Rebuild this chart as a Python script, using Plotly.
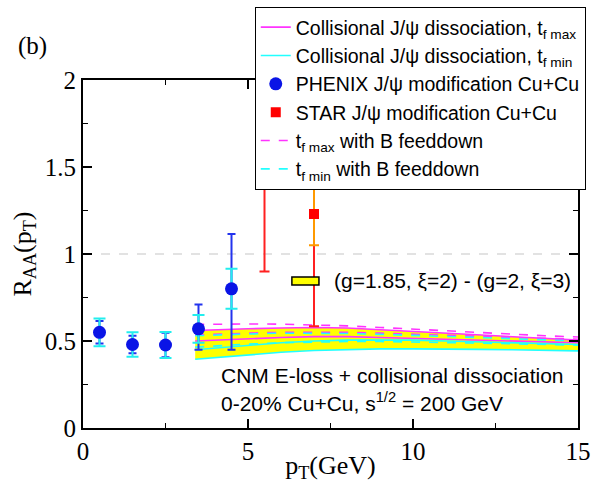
import plotly.graph_objects as go

# ---------------- data ----------------
pt_theory = [3.4, 4, 5, 6, 7, 8, 9, 10, 11, 12, 13, 14, 15]
mag_solid_hi = [0.560, 0.565, 0.570, 0.575, 0.578, 0.575, 0.565, 0.555, 0.545, 0.535, 0.525, 0.515, 0.505]
mag_solid_lo = [0.500, 0.505, 0.515, 0.520, 0.525, 0.525, 0.520, 0.515, 0.510, 0.505, 0.500, 0.495, 0.490]
cyan_solid_hi = [0.450, 0.460, 0.475, 0.490, 0.500, 0.505, 0.505, 0.505, 0.500, 0.495, 0.490, 0.485, 0.480]
cyan_solid_lo = [0.395, 0.405, 0.420, 0.435, 0.445, 0.450, 0.455, 0.455, 0.455, 0.452, 0.450, 0.447, 0.443]
mag_dash_hi = [0.595, 0.597, 0.598, 0.597, 0.593, 0.587, 0.578, 0.568, 0.558, 0.548, 0.538, 0.530, 0.523]
mag_dash_lo = [0.535, 0.540, 0.545, 0.550, 0.552, 0.550, 0.545, 0.540, 0.533, 0.527, 0.520, 0.515, 0.510]
cyan_dash_hi = [0.530, 0.535, 0.540, 0.545, 0.545, 0.543, 0.538, 0.533, 0.527, 0.520, 0.513, 0.507, 0.500]
cyan_dash_lo = [0.465, 0.472, 0.482, 0.490, 0.495, 0.497, 0.497, 0.495, 0.492, 0.488, 0.484, 0.480, 0.476]

phenix_pt = [0.5, 1.5, 2.5, 3.5, 4.5]
phenix_raa = [0.55, 0.48, 0.477, 0.57, 0.80]
phenix_stat_up = [0.065, 0.05, 0.07, 0.14, 0.315]
phenix_stat_dn = [0.065, 0.05, 0.07, 0.12, 0.35]
phenix_sys = [0.08, 0.07, 0.075, 0.08, 0.115]

star_pt = [5.5, 7.0]
star_raa = [1.65, 1.23]
star_stat = [0.75, 0.645]
star_sys = [0.25, 0.18]

x_ticks = [0, 5, 10, 15]
y_ticks = [0, 0.5, 1, 1.5, 2]

MAG = "#ff33ff"
CYA = "#22ffff"
SANS = "Liberation Sans, Arial, sans-serif"
SERIF = "Liberation Serif, Times New Roman, serif"

fig = go.Figure()

# yellow band
fig.add_trace(go.Scatter(x=pt_theory, y=cyan_solid_lo, mode="lines", line=dict(width=0),
                         showlegend=False, hoverinfo="skip"))
fig.add_trace(go.Scatter(x=pt_theory, y=mag_solid_hi, mode="lines", line=dict(width=0),
                         fill="tonexty", fillcolor="#ffff00", showlegend=False, hoverinfo="skip"))

# theory curves
def curve(y, color, dash, name=None, rank=None):
    fig.add_trace(go.Scatter(x=pt_theory, y=y, mode="lines",
                             line=dict(color=color, width=1.6, dash=dash),
                             name=name or "", showlegend=name is not None,
                             legendrank=rank if rank else 1000))

curve(mag_solid_hi, MAG, "solid", "Collisional J/ψ dissociation, t<sub>f max</sub>", 1)
curve(mag_solid_lo, MAG, "solid")
curve(cyan_solid_hi, CYA, "solid", "Collisional J/ψ dissociation, t<sub>f min</sub>", 2)
curve(cyan_solid_lo, CYA, "solid")
curve(mag_dash_hi, MAG, "dash", "t<sub>f max</sub> with B feeddown", 5)
curve(mag_dash_lo, MAG, "dash")
curve(cyan_dash_hi, CYA, "dash", "t<sub>f min</sub> with B feeddown", 6)
curve(cyan_dash_lo, CYA, "dash")

# PHENIX
fig.add_trace(go.Scatter(x=phenix_pt, y=phenix_raa, mode="markers", marker=dict(size=1, opacity=0),
                         error_y=dict(type="data", array=phenix_stat_up, arrayminus=phenix_stat_dn,
                                      color="#2233ee", thickness=2, width=4),
                         showlegend=False))
fig.add_trace(go.Scatter(x=phenix_pt, y=phenix_raa, mode="markers", marker=dict(size=1, opacity=0),
                         error_y=dict(type="data", array=phenix_sys, color="#22eeee", thickness=2, width=6),
                         showlegend=False))
fig.add_trace(go.Scatter(x=phenix_pt, y=phenix_raa, mode="markers",
                         marker=dict(symbol="circle", size=13, color="#0a14e6"),
                         name="PHENIX J/ψ modification Cu+Cu", legendrank=3))

# STAR
fig.add_trace(go.Scatter(x=star_pt, y=star_raa, mode="markers", marker=dict(size=1, opacity=0),
                         error_y=dict(type="data", array=star_stat, color="#ff2020", thickness=2, width=5),
                         showlegend=False))
fig.add_trace(go.Scatter(x=star_pt, y=star_raa, mode="markers", marker=dict(size=1, opacity=0),
                         error_y=dict(type="data", array=star_sys, color="#ff9900", thickness=2, width=5),
                         showlegend=False))
fig.add_trace(go.Scatter(x=star_pt, y=star_raa, mode="markers",
                         marker=dict(symbol="square", size=10, color="#ff0000"),
                         name="STAR J/ψ modification Cu+Cu", legendrank=4))

# reference line at 1
fig.add_hline(y=1, line=dict(color="#d9d9d9", width=1.5, dash="dash"), layer="below")

# band key
fig.add_shape(type="rect", x0=6.33, x1=7.15, y0=0.822, y1=0.868, xref="x", yref="y",
              fillcolor="#ffff00", line=dict(color="black", width=1.5), layer="above")

fig.add_annotation(x=7.55, y=0.845, xref="x", yref="y", xanchor="left", yanchor="middle",
                   text="(g=1.85, ξ=2) - (g=2, ξ=3)", showarrow=False,
                   font=dict(family=SANS, size=21, color="black"))
fig.add_annotation(x=4.12, y=0.30, xref="x", yref="y", xanchor="left", yanchor="middle",
                   text="CNM E-loss + collisional dissociation", showarrow=False,
                   font=dict(family=SANS, size=21, color="black"))
fig.add_annotation(x=4.12, y=0.15, xref="x", yref="y", xanchor="left", yanchor="middle",
                   text="0-20% Cu+Cu, s<sup>1/2</sup> = 200 GeV", showarrow=False,
                   font=dict(family=SANS, size=21, color="black"))
fig.add_annotation(x=-0.135, y=1.098, xref="paper", yref="paper", xanchor="left", yanchor="middle",
                   text="(b)", showarrow=False, font=dict(family=SERIF, size=25, color="black"))

axis_common = dict(showline=True, linecolor="black", linewidth=2, mirror="allticks",
                   ticks="inside", ticklen=9, tickwidth=1.5, tickcolor="black",
                   showgrid=False, zeroline=False, automargin=False,
                   tickfont=dict(family=SERIF, size=25, color="black"))

fig.update_xaxes(range=[0, 15], tickvals=x_ticks,
                 minor=dict(dtick=2.5, ticks="inside", ticklen=5, tickwidth=1.2, tickcolor="black"),
                 title=dict(text="p<sub>T</sub>(GeV)", font=dict(family=SERIF, size=26, color="black"), standoff=2),
                 **axis_common)
fig.update_yaxes(range=[0, 2], tickvals=y_ticks,
                 minor=dict(dtick=0.25, ticks="inside", ticklen=5, tickwidth=1.2, tickcolor="black"),
                 title=dict(text="R<sub>AA</sub>(p<sub>T</sub>)", font=dict(family=SERIF, size=26, color="black"), standoff=6),
                 **axis_common)

fig.update_layout(
    width=597, height=483,
    margin=dict(l=83, r=19, t=80, b=55, autoexpand=False),
    paper_bgcolor="white", plot_bgcolor="white",
    legend=dict(x=0.347, y=1.21, xanchor="left", yanchor="top", traceorder="normal",
                bgcolor="white", bordercolor="black", borderwidth=1,
                font=dict(family=SANS, size=19.5, color="black"),
                itemwidth=30, tracegroupgap=0),
)

fig.write_html("out.html", config={"displayModeBar": False},
               post_script="document.body.style.margin='0';document.body.style.overflow='hidden';")
